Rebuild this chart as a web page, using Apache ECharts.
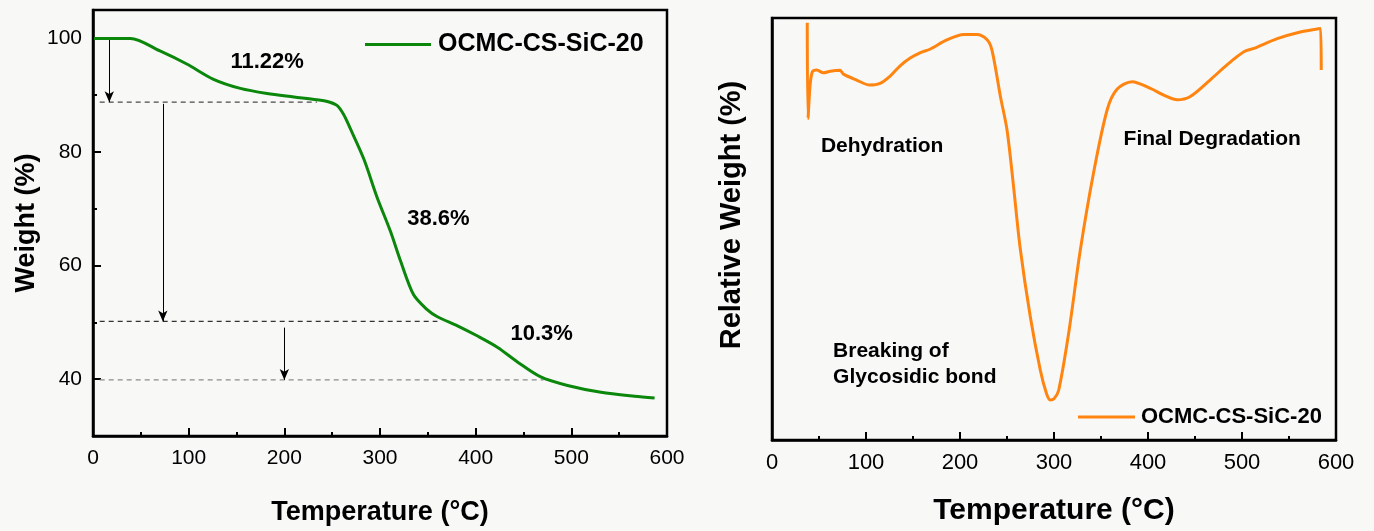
<!DOCTYPE html>
<html>
<head>
<meta charset="utf-8">
<script src="https://cdn.jsdelivr.net/npm/echarts@6/dist/echarts.min.js"></script>
<style>
  html, body { margin: 0; padding: 0; background: #f8f8f7; }
  #chart { width: 1374px; height: 531px; }
</style>
</head>
<body>
<div id="chart"></div>
<script>
// ---- TGA curve (weight % vs temperature) ----
const tgaTemp = [1, 39, 70, 98, 126, 154, 182, 210, 234, 245, 255, 262, 269, 283, 297, 311, 321.5, 335, 349, 360, 381, 402, 423, 444, 468, 496, 531, 566, 587];
const tgaWeight = [100, 100, 97.8, 95.5, 92.8, 91.2, 90.3, 89.7, 89.2, 88.9, 88.2, 86.6, 84.1, 78.8, 72.0, 66.0, 60.8, 54.9, 52.3, 51.0, 49.4, 47.6, 45.6, 43.0, 40.4, 38.9, 37.7, 37.0, 36.7];

// weight-loss steps written on the plot
const stepLoss = [11.22, 38.6, 10.3];
const stepLabelTemp = [182, 361, 469];
const stepLabelWeight = [95.8, 68.3, 47.9];
// where each dashed level line stops, and where each arrow sits
const levelLineEnd = [234, 360, 471];
const arrowTemp = [17, 73, 200];

// ---- DTG curve (relative weight vs temperature, arbitrary units) ----
const dtgTemp = [37.5, 38.3, 40.5, 43, 47.6, 54.6, 62, 72.4, 76, 90, 104, 115, 126, 136, 147, 158, 168, 186, 204, 218, 228.6, 234, 243, 250, 257, 264, 274.8, 285.4, 292, 296, 300, 305, 315.6, 328, 342, 356.5, 367, 383, 402.6, 418, 431, 445, 466, 484, 502, 512.6, 537.5, 562, 583.6, 584.3];
const dtgValue = [98.9, 76.2, 84.0, 87.3, 87.7, 87.0, 87.4, 87.6, 86.7, 85.3, 84.1, 84.5, 86.3, 88.6, 90.5, 91.8, 92.6, 94.8, 96.1, 96.1, 94.9, 92.4, 81.4, 73.5, 60.0, 45.5, 29.2, 16.6, 11.0, 9.5, 9.8, 11.8, 25.3, 45.0, 63.2, 78.2, 83.1, 84.9, 83.3, 81.6, 80.6, 81.4, 85.3, 88.9, 92.0, 92.8, 95.1, 96.7, 97.5, 87.7];

const dtgNotes = [
  { text: 'Dehydration', temp: 52, value: 69.7 },
  { text: 'Final Degradation', temp: 374, value: 71.3 },
  { text: 'Breaking of\nGlycosidic bond', temp: 65, value: 18.0 }
];

const weightTicks = [40, 60, 80, 100];
const weightMinorTicks = [50, 70, 90];
const sampleName = 'OCMC-CS-SiC-20';

const FONT = 'Liberation Sans, Arial, sans-serif';
const GREEN = '#0b870b';
const ORANGE = '#ff8410';
const INK = '#000';
const FRAME = 2.5;

const zip = (a, b) => a.map((v, i) => [v, b[i]]);

// dashed level lines follow from the loss steps
const levels = [];
let w = 100;
stepLoss.forEach(l => { w = +(w - l).toFixed(2); levels.push(w); });
const arrowFrom = [100, levels[0] - 0.3, levels[1] - 1.1];

const xAxisBase = (gridIndex, labelSize) => ({
  type: 'value', gridIndex, min: 0, max: 600, interval: 100,
  axisLine: { show: true, lineStyle: { color: INK, width: FRAME } },
  axisTick: { show: true, inside: true, length: 8, lineStyle: { color: INK, width: 2 } },
  minorTick: { show: true, splitNumber: 2, length: 4, lineStyle: { color: INK, width: 2 } },
  splitLine: { show: false },
  axisLabel: { color: INK, fontFamily: FONT, fontSize: labelSize, margin: 12 }
});

const noteLabel = (size, position) => ({
  show: true, position, formatter: p => p.name, fontFamily: FONT, fontWeight: 'bold',
  fontSize: size, lineHeight: 26, color: INK, opacity: 1, textBorderWidth: 0, distance: 0
});

const option = {
  backgroundColor: '#f8f8f7',
  animation: false,
  grid: [
    { left: 93, top: 10, width: 574, height: 428, show: true, borderColor: INK, borderWidth: FRAME, backgroundColor: 'transparent' },
    { left: 772, top: 18, width: 564, height: 422, show: true, borderColor: INK, borderWidth: FRAME, backgroundColor: 'transparent' }
  ],
  legend: [
    {
      data: [{ name: sampleName }], left: 360, top: 27, icon: 'rect', itemWidth: 66, itemHeight: 3, itemGap: 0,
      textStyle: { fontFamily: FONT, fontWeight: 'bold', fontSize: 25, color: INK, padding: [0, 0, 0, 2] }
    },
    {
      data: [{ name: sampleName + ' ' }], left: 1073, top: 401, icon: 'rect', itemWidth: 57, itemHeight: 3, itemGap: 0,
      textStyle: { fontFamily: FONT, fontWeight: 'bold', fontSize: 22, color: INK, padding: [0, 0, 0, 1] }
    }
  ],
  xAxis: [
    Object.assign(xAxisBase(0, 21), {
      name: 'Temperature (°C)', nameLocation: 'middle', nameGap: 63,
      nameTextStyle: { fontFamily: FONT, fontWeight: 'bold', fontSize: 27, color: INK }
    }),
    Object.assign(xAxisBase(1, 22), {
      name: 'Temperature (°C)', nameLocation: 'middle', nameGap: 56,
      nameTextStyle: { fontFamily: FONT, fontWeight: 'bold', fontSize: 30, color: INK }
    })
  ],
  yAxis: [
    {
      type: 'value', gridIndex: 0, position: 'left', min: 30, max: 105,
      name: 'Weight (%)', nameLocation: 'middle', nameGap: 53,
      nameTextStyle: { fontFamily: FONT, fontWeight: 'bold', fontSize: 27, color: INK },
      axisLine: { show: true, lineStyle: { color: INK, width: FRAME } },
      axisTick: { show: true, inside: true, length: 8, customValues: weightTicks, lineStyle: { color: INK, width: 2 } },
      axisLabel: { customValues: weightTicks, color: INK, fontFamily: FONT, fontSize: 21, margin: 11 },
      splitLine: { show: false }
    },
    {
      // short inner ticks between the labelled weights
      type: 'value', gridIndex: 0, position: 'left', offset: 0, min: 30, max: 105,
      axisLine: { show: false },
      axisTick: { show: true, inside: true, length: 4, customValues: weightMinorTicks, lineStyle: { color: INK, width: 2 } },
      axisLabel: { show: false },
      splitLine: { show: false }
    },
    {
      type: 'value', gridIndex: 1, position: 'left', min: 0, max: 100,
      name: 'Relative Weight (%)', nameLocation: 'middle', nameGap: 26,
      nameTextStyle: { fontFamily: FONT, fontWeight: 'bold', fontSize: 29, color: INK, padding: [0, 0, 0, 28] },
      axisLine: { show: true, lineStyle: { color: INK, width: FRAME } },
      axisTick: { show: false },
      axisLabel: { show: false },
      splitLine: { show: false }
    }
  ],
  series: [
    {
      name: sampleName, type: 'line', xAxisIndex: 0, yAxisIndex: 0,
      data: zip(tgaTemp, tgaWeight), smooth: 0.3, symbol: 'none',
      lineStyle: { color: GREEN, width: 3 }, itemStyle: { color: GREEN }, z: 5
    },
    // dashed level lines
    ...levels.map((lv, i) => ({
      type: 'line', xAxisIndex: 0, yAxisIndex: 0, symbol: 'none', silent: true,
      data: [[7, lv], [levelLineEnd[i], lv]],
      lineStyle: { color: ['#4a4a4a', '#333', '#8a8a8a'][i], width: 1.3, type: [5, 4] }, z: 3
    })),
    // arrows and step labels
    {
      type: 'scatter', xAxisIndex: 0, yAxisIndex: 0, symbolSize: 0, silent: true,
      itemStyle: { opacity: 1 },
      data: stepLoss.map((l, i) => ({ value: [stepLabelTemp[i], stepLabelWeight[i]], name: l + '%' })),
      label: noteLabel(22, 'inside'),
      markLine: {
        silent: true, symbol: ['none', 'arrow'], symbolSize: [7, 11],
        lineStyle: { color: INK, width: 1, type: 'solid' }, label: { show: false },
        data: arrowTemp.map((t, i) => [{ coord: [t, arrowFrom[i]] }, { coord: [t, levels[i]] }])
      }
    },
    {
      name: sampleName + ' ', type: 'line', xAxisIndex: 1, yAxisIndex: 2,
      data: zip(dtgTemp, dtgValue), smooth: 0.3, symbol: 'none',
      lineStyle: { color: ORANGE, width: 3 }, itemStyle: { color: ORANGE }, z: 5
    },
    {
      type: 'scatter', xAxisIndex: 1, yAxisIndex: 2, symbolSize: 0, silent: true,
      itemStyle: { opacity: 1 },
      data: dtgNotes.map(n => ({ value: [n.temp, n.value], name: n.text })),
      label: noteLabel(21, 'right')
    }
  ]
};

const chart = echarts.init(document.getElementById('chart'), null, { renderer: 'canvas' });
chart.setOption(option);
</script>
</body>
</html>
